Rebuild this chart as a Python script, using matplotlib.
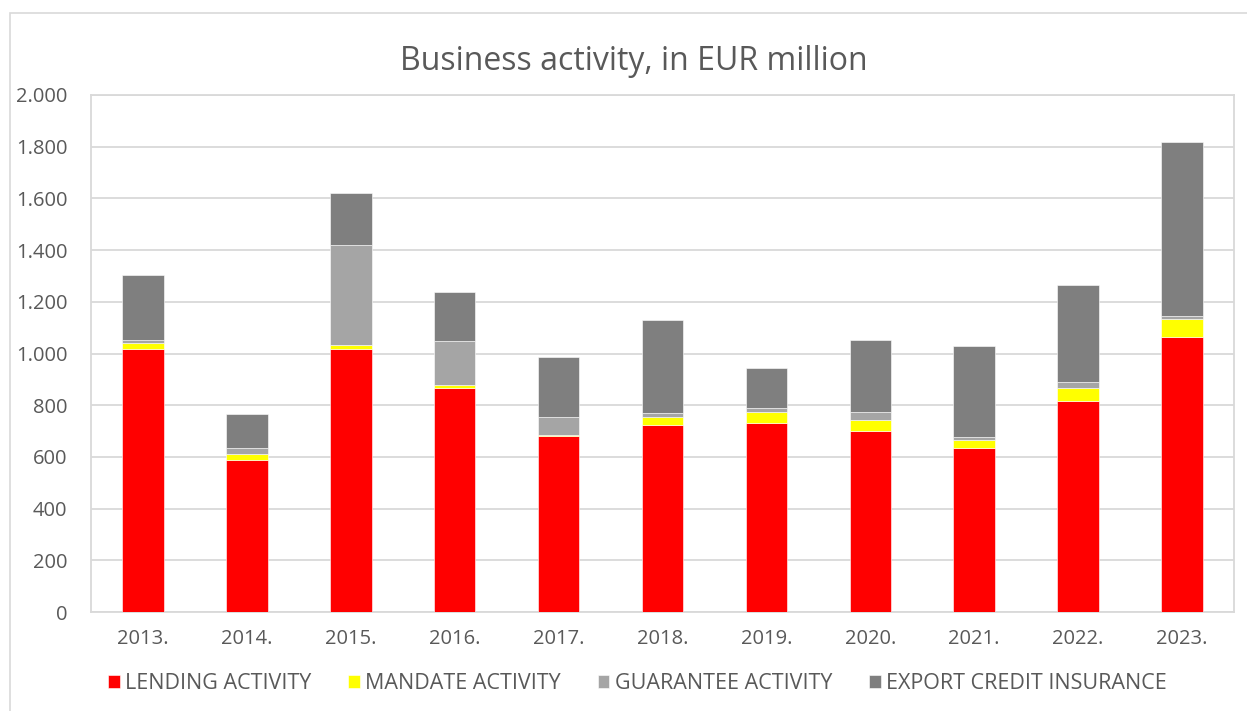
import numpy as np
import matplotlib.pyplot as plt
from matplotlib.patches import Rectangle

years = ['2013.', '2014.', '2015.', '2016.', '2017.', '2018.',
         '2019.', '2020.', '2021.', '2022.', '2023.']
lending = [1017, 589, 1018, 868, 682, 725, 731, 701, 636, 816, 1065]
mandate = [22, 22, 15, 9, 2, 29, 43, 43, 31, 52, 68]
guarantee = [13, 22, 387, 171, 72, 15, 15, 30, 9, 23, 12]
export = [253, 134, 200, 190, 230, 361, 154, 278, 353, 374, 672]

series = [('LENDING ACTIVITY', lending, '#FF0000'),
          ('MANDATE ACTIVITY', mandate, '#FFFF00'),
          ('GUARANTEE ACTIVITY', guarantee, '#A5A5A5'),
          ('EXPORT CREDIT INSURANCE', export, '#7F7F7F')]

plt.rcParams['font.family'] = ['Open Sans', 'DejaVu Sans']
txt = '#595959'
grid = '#D9D9D9'

fig = plt.figure(figsize=(12.47, 7.11), dpi=100)
fig.patches.append(Rectangle((10 / 1247, -0.1), 1.2, 0.1 + (711 - 13) / 711,
                             transform=fig.transFigure, fill=False,
                             edgecolor=grid, lw=1.2))
ax = fig.add_axes([91 / 1247, (711 - 612) / 711, (1234 - 91) / 1247, (612 - 95) / 711])

x = np.arange(len(years))
bottom = np.zeros(len(years))
for name, vals, col in series:
    ax.bar(x, vals, 0.4, bottom=bottom, color=col, label=name,
           edgecolor='white', linewidth=0.4, zorder=3)
    bottom += np.array(vals)

ax.set_xlim(-0.5, len(years) - 0.5)
ax.set_ylim(0, 2000)
ax.set_yticks(range(0, 2001, 200))
ax.set_yticklabels([f'{v:,}'.replace(',', '.') for v in range(0, 2001, 200)])
ax.set_xticks(x)
ax.set_xticklabels(years)
ax.tick_params(length=0, labelsize=14.5, colors=txt)
ax.tick_params(axis='x', pad=12)
ax.tick_params(axis='y', pad=17)
ax.yaxis.grid(True, color=grid, lw=1.3, zorder=0)
for s in ax.spines.values():
    s.set_color(grid)
    s.set_linewidth(1.3)

ax.set_title('Business activity, in EUR million', fontsize=23, color=txt,
             pad=18, x=0.475)
ax.legend(loc='upper center', bbox_to_anchor=(0.478, -0.08), ncol=4,
          frameon=False, fontsize=15.5, labelcolor=txt, handlelength=0.55,
          handleheight=0.55, handletextpad=0.25, columnspacing=1.7)

fig.savefig('out.png', dpi=100)
